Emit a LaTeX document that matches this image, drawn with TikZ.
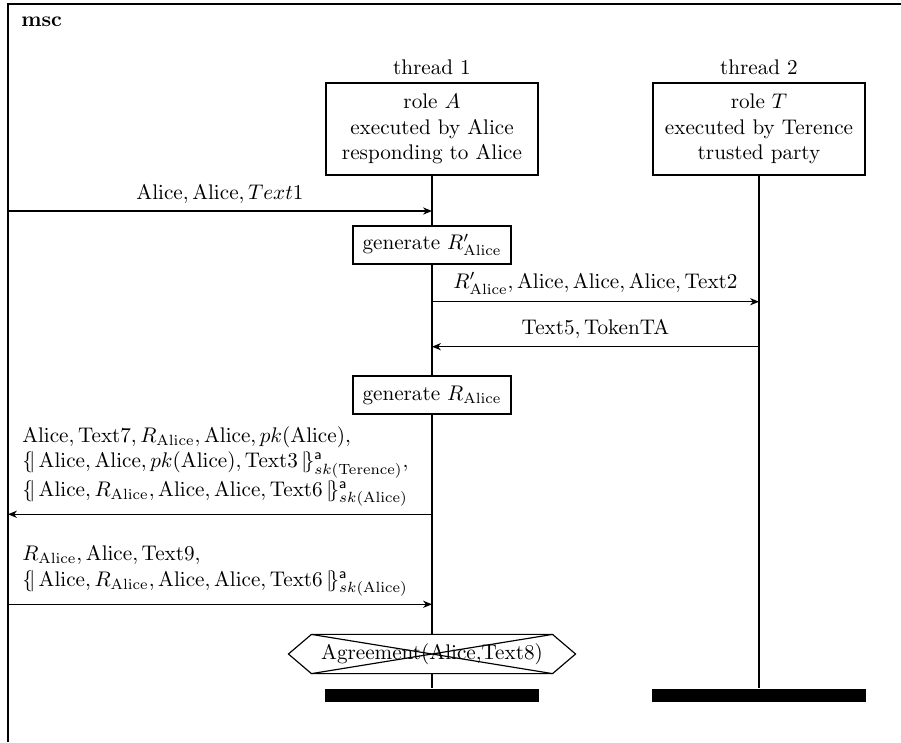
\documentclass[tikz,border=0pt]{standalone}
\usepackage{tikz}
\usepackage{amsmath}
\usepackage{amssymb}
\usetikzlibrary{arrows.meta, calc, positioning}

\newcommand{\encopen}{\{\!|\,}
\newcommand{\encclose}{\,|\!\}}

\begin{document}
\begin{tikzpicture}[>={Stealth[length=4.2pt, width=3.4pt, inset=1.3pt]}, line width=0.55pt]
	\tikzstyle{instance} = [draw, minimum width=3.52cm, minimum height=1.53cm, align=center]
	\tikzstyle{action} = [draw, minimum height=0.63cm, inner xsep=4.5pt]
	\tikzstyle{stopbar} = [fill, minimum width=3.54cm, minimum height=0.216cm, inner sep=0pt]
	\tikzstyle{msg} = [->]

	\useasboundingbox (0,0) rectangle (14.967,-12.326);

	% frame
	\draw (0.133,-12.326) |- (14.967,-0.066);
	\node[anchor=west, inner sep=0pt, font=\bfseries] (title) at (0.344,-0.36) {msc};

	% instances
	\node[instance] (i1) at (7.176,-2.143) {role $A$\\executed by Alice\\responding to Alice};
	\node[instance] (i2) at (12.608,-2.143) {role $T$\\executed by Terence\\trusted party};
	\node[above=0pt of i1] (t1) {thread 1};
	\node[above=0pt of i2] (t2) {thread 2};

	% actions
	\node[action] (g1) at (7.176,-4.07) {generate $R'_{\mathrm{Alice}}$};
	\node[action] (g2) at (7.176,-6.561) {generate $R_{\mathrm{Alice}}$};
	\node[minimum width=3.986cm, minimum height=0.632cm, inner sep=0pt] (agree) at (7.176,-10.864) {Agreement(Alice,Text8)};
	\draw (agree.north west) -- (agree.north east) -- ($(agree.east)+(0.382,0)$)
		-- (agree.south east) -- (agree.south west) -- ($(agree.west)-(0.382,0)$) -- cycle;
	\draw (agree.north west) -- (agree.south east);
	\draw (agree.north east) -- (agree.south west);

	% stops
	\node[stopbar] (bar1) at (7.176,-11.553) {};
	\node[stopbar] (bar2) at (12.608,-11.553) {};

	% lifelines
	\draw (i1) -- (g1) (g1) -- (g2) (g2) -- (agree) (agree) -- (bar1);
	\draw (i2) -- (bar2);

	% message ends
	\coordinate (m1a) at (0.133,-3.505);
	\coordinate (m1b) at (7.176,-3.505);
	\coordinate (m2a) at (7.176,-5.012);
	\coordinate (m2b) at (12.608,-5.012);
	\coordinate (m3a) at (12.608,-5.759);
	\coordinate (m3b) at (7.176,-5.759);
	\coordinate (m4a) at (7.176,-8.543);
	\coordinate (m4b) at (0.133,-8.543);
	\coordinate (m5a) at (0.133,-10.038);
	\coordinate (m5b) at (7.176,-10.038);

	% messages
	\draw[msg] (m1a) -- node[above] {$\mathrm{Alice}, \mathrm{Alice}, Text1$} (m1b);
	\draw[msg] (m2a) -- node[above] {$R'_{\mathrm{Alice}}, \mathrm{Alice}, \mathrm{Alice}, \mathrm{Alice}, \mathrm{Text2}$} (m2b);
	\draw[msg] (m3a) -- node[above] {$\mathrm{Text5}, \mathrm{TokenTA}$} (m3b);
	\draw[msg] (m4a) -- (m4b)
		node[pos=1, anchor=south west, align=left, xshift=0.11cm] (l4)
		{$\mathrm{Alice}, \mathrm{Text7}, R_{\mathrm{Alice}}, \mathrm{Alice}, pk(\mathrm{Alice}),$\\
		 $\encopen \mathrm{Alice}, \mathrm{Alice}, pk(\mathrm{Alice}), \mathrm{Text3} \encclose^{\mathsf{a}}_{sk(\mathrm{Terence})},$\\
		 $\encopen \mathrm{Alice}, R_{\mathrm{Alice}}, \mathrm{Alice}, \mathrm{Alice}, \mathrm{Text6} \encclose^{\mathsf{a}}_{sk(\mathrm{Alice})}$};
	\draw[msg] (m5a) -- (m5b)
		node[pos=0, anchor=south west, align=left, xshift=0.11cm] (l5)
		{$R_{\mathrm{Alice}}, \mathrm{Alice}, \mathrm{Text9},$\\
		 $\encopen \mathrm{Alice}, R_{\mathrm{Alice}}, \mathrm{Alice}, \mathrm{Alice}, \mathrm{Text6} \encclose^{\mathsf{a}}_{sk(\mathrm{Alice})}$};
\end{tikzpicture}
\end{document}
